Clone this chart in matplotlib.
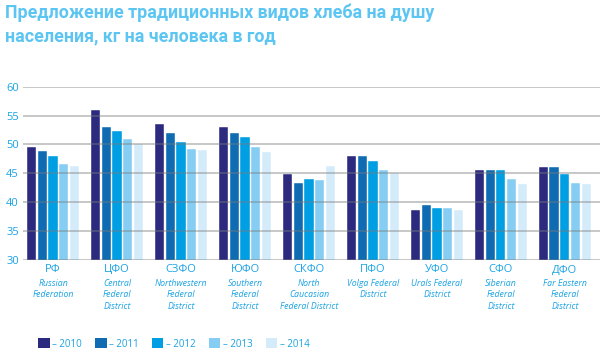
import matplotlib
matplotlib.use("Agg")
import matplotlib.pyplot as plt
import numpy as np
from matplotlib.transforms import blended_transform_factory

plt.rcParams['font.family'] = ['Open Sans', 'DejaVu Sans']

title_lines = ["Предложение традиционных видов хлеба на душу",
               "населения, кг на человека в год"]
regions_ru = ["РФ", "ЦФО", "СЗФО", "ЮФО", "СКФО", "ПФО", "УФО", "СФО", "ДФО"]
regions_en = ["Russian\nFederation", "Central\nFederal\nDistrict", "Northwestern\nFederal\nDistrict",
              "Southern\nFederal\nDistrict", "North\nCaucasian\nFederal District",
              "Volga Federal\nDistrict", "Urals Federal\nDistrict", "Siberian\nFederal\nDistrict",
              "Far Eastern\nFederal\nDistrict"]
years = ["2010", "2011", "2012", "2013", "2014"]
values = {
    "2010": [49.6, 56.0, 53.5, 53.0, 44.9, 48.0, 38.7, 45.6, 46.1],
    "2011": [48.8, 53.0, 51.9, 52.0, 43.3, 48.0, 39.6, 45.6, 46.1],
    "2012": [48.0, 52.3, 50.4, 51.3, 44.0, 47.1, 39.0, 45.6, 44.9],
    "2013": [46.7, 50.9, 49.3, 49.6, 43.8, 45.6, 39.0, 44.1, 43.3],
    "2014": [46.3, 50.1, 49.0, 48.7, 46.3, 45.0, 38.7, 43.1, 43.1],
}
yticks = [30, 35, 40, 45, 50, 55, 60]
colors = ["#2b2a7f", "#0f6cb3", "#009fe3", "#86cdf3", "#d4ecfa"]

W, H = 600, 353
fig = plt.figure(figsize=(W / 100, H / 100), dpi=100)
ax = fig.add_axes([23 / W, 1 - 260 / H, 1 - 23 / W, (260 - 86.7) / H])

x = np.arange(len(regions_ru))
pitch = 0.167
bw = 0.145
handles = []
for i, (yr, c) in enumerate(zip(years, colors)):
    h = ax.bar(x + (i - 2) * pitch, values[yr], width=bw, bottom=0, color=c,
               edgecolor='white', linewidth=0.3, zorder=2, label="– " + yr)
    handles.append(h)

ax.set_ylim(30, 60)
ax.set_xlim(-0.47, 8.55)
ax.set_yticks(yticks)
ax.set_yticklabels([str(t) for t in yticks])
ax.tick_params(axis='y', length=0, pad=3, labelsize=8, labelcolor='#1aa3e3')
ax.tick_params(axis='x', length=0, labelbottom=False)
for t in yticks:
    ax.axhline(t, color='#7a7a7a', alpha=0.45, linewidth=1.3, zorder=3)
for s in ax.spines.values():
    s.set_visible(False)

trans = blended_transform_factory(ax.transData, fig.transFigure)
for xi, ru, en in zip(x, regions_ru, regions_en):
    ax.text(xi, 1 - 270 / H, ru, transform=trans, ha='center', va='center',
            fontsize=8, color='#1aa3e3', clip_on=False)
    ax.text(xi, 1 - 278.5 / H, en, transform=trans, ha='center', va='top',
            fontsize=6.3, style='italic', color='#1aa3e3', linespacing=1.42, clip_on=False)

for line, yb in zip(title_lines, [18.5, 41.0]):
    fig.text(5 / W, 1 - yb / H, line, ha='left', va='baseline', fontsize=12.8,
             fontweight='bold', color='#5cc5f2', family=['Roboto', 'DejaVu Sans'])

leg = fig.legend(handles=handles, labels=["– " + y for y in years], loc='center left',
                 bbox_to_anchor=(33 / W, 1 - 344 / H), ncol=5, frameon=False,
                 fontsize=7, handlelength=1.2, handleheight=1.2, handletextpad=0.3,
                 columnspacing=1.3, borderpad=0)
for t in leg.get_texts():
    t.set_color('#1aa3e3')
for p in leg.get_patches():
    p.set_edgecolor('none')

fig.savefig("out.png", dpi=100)
